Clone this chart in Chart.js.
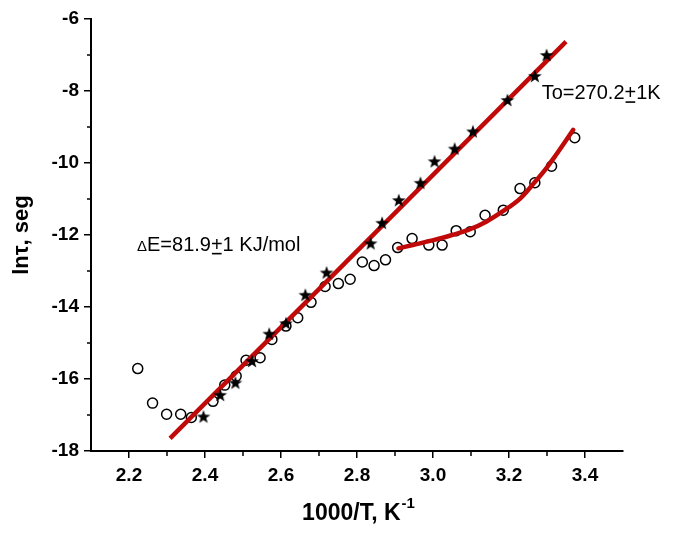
<!DOCTYPE html>
<html>
<head>
<meta charset="utf-8">
<script src="https://cdn.jsdelivr.net/npm/chart.js@4.4.1/dist/chart.umd.min.js"></script>
<style>
  html, body { margin: 0; padding: 0; background: #fff; }
  #wrap { width: 673px; height: 534px; }
</style>
</head>
<body>
<div id="wrap"><canvas id="tauChart"></canvas></div>
<script>
// star points (filled)
const starX = [2.396, 2.440, 2.480, 2.524, 2.569, 2.613, 2.664, 2.720, 2.836, 2.866, 2.910, 2.967, 3.004, 3.057, 3.105, 3.196, 3.268, 3.299]
const starY = [-17.04, -16.44, -16.10, -15.50, -14.74, -14.45, -13.66, -13.04, -12.23, -11.66, -11.03, -10.55, -9.95, -9.60, -9.12, -8.25, -7.58, -7.00]

// open circles
const circleX = [2.223, 2.262, 2.299, 2.336, 2.364, 2.421, 2.452, 2.482, 2.508, 2.545, 2.576, 2.613, 2.644, 2.679, 2.716, 2.751, 2.782, 2.814, 2.845, 2.875, 2.907, 2.945, 2.989, 3.024, 3.061, 3.098, 3.137, 3.185, 3.229, 3.268, 3.312, 3.373]
const circleY = [-15.71, -16.67, -16.98, -16.98, -17.07, -16.62, -16.17, -15.92, -15.48, -15.41, -14.90, -14.53, -14.30, -13.87, -13.43, -13.35, -13.23, -12.75, -12.85, -12.69, -12.35, -12.10, -12.28, -12.28, -11.88, -11.91, -11.45, -11.31, -10.71, -10.55, -10.09, -9.30]

// red fits
const fitX = [2.308, 3.350]
const fitY = [-17.65, -6.63]
const curveX = [2.909, 2.95, 3.006, 3.05, 3.093, 3.14, 3.181, 3.23, 3.268, 3.30, 3.320, 3.345, 3.369]
const curveY = [-12.37, -12.27, -12.13, -12.00, -11.86, -11.63, -11.36, -10.98, -10.53, -10.12, -9.83, -9.45, -9.08]

// axes
const xMin = 2.1, xMax = 3.5, xStep = 0.2
const yMin = -18, yMax = -6, yStep = 2

const toPts = (xs, ys) => xs.map((x, i) => ({x: x, y: ys[i]}))

// filled star marker
const starImg = document.createElement('canvas')
starImg.width = 16; starImg.height = 16
{
    const c = starImg.getContext('2d')
    c.fillStyle = '#000'
    c.beginPath()
    for (let i = 0; i < 10; i++) {
        const r = i % 2 ? 2.9 : 7.2
        const a = -Math.PI / 2 + i * Math.PI / 5
        c.lineTo(8 + r * Math.cos(a), 8.6 + r * Math.sin(a))
    }
    c.closePath()
    c.fill()
}

const FONT = "'Liberation Sans', Arial, sans-serif"

const extras = {
    id: 'extras',
    afterDraw(chart) {
        const c = chart.ctx
        const xs = chart.scales.x, ys = chart.scales.y
        const area = chart.chartArea
        c.save()
        c.strokeStyle = '#000'
        c.lineWidth = 1.5
        // minor ticks
        for (let v = -17; v <= -7; v += 2) {
            const py = ys.getPixelForValue(v)
            c.beginPath(); c.moveTo(area.left - 4, py); c.lineTo(area.left, py); c.stroke()
        }
        for (let v = 2.3; v < 3.5; v += 0.2) {
            const px = xs.getPixelForValue(v)
            c.beginPath(); c.moveTo(px, area.bottom); c.lineTo(px, area.bottom + 5); c.stroke()
        }

        c.fillStyle = '#000'
        c.textBaseline = 'alphabetic'
        c.textAlign = 'left'

        // annotation helper: text with underlined plus sign
        const pmText = (x, y, before, after, deltaPrefix) => {
            let px = x
            if (deltaPrefix) {
                c.font = '15px ' + FONT
                c.fillText('\u0394', px, y)
                px += c.measureText('\u0394').width
            }
            c.font = '20px ' + FONT
            c.fillText(before, px, y)
            px += c.measureText(before).width
            const pw = c.measureText('+').width
            c.fillText('+', px, y)
            c.fillRect(px + 1, y + 2, pw - 2, 1.6)
            px += pw
            c.fillText(after, px, y)
        }
        pmText(xs.getPixelForValue(2.221), ys.getPixelForValue(-12.44), 'E=81.9', '1 KJ/mol', true)
        pmText(xs.getPixelForValue(3.286), ys.getPixelForValue(-8.23), 'To=270.2', '1K', false)

        // x title with superscript
        c.font = 'bold 23px ' + FONT
        const main = '1000/T, K'
        const wMain = c.measureText(main).width
        c.font = 'bold 15px ' + FONT
        const wSup = c.measureText('-1').width
        let tx = 358 - (wMain + wSup) / 2
        c.font = 'bold 23px ' + FONT
        c.fillText(main, tx, 520)
        c.font = 'bold 15px ' + FONT
        c.fillText('-1', tx + wMain + 1, 508)

        // y title
        c.translate(28, 235)
        c.rotate(-Math.PI / 2)
        c.textAlign = 'center'
        c.font = 'bold 22px ' + FONT
        c.fillText('ln\u03C4, seg', 0, 0)
        c.restore()
    }
}

const tauChart = new Chart(document.getElementById('tauChart'), {
    type: 'scatter',
    data: {
        datasets: [{
            label: 'stars',
            data: toPts(starX, starY),
            pointStyle: starImg,
            pointRadius: 8,
            order: 0
        }, {
            label: 'fit',
            data: toPts(fitX, fitY),
            showLine: true,
            borderColor: '#c00a0a',
            borderWidth: 4.5,
            pointRadius: 0,
            order: 1
        }, {
            label: 'curve',
            data: toPts(curveX, curveY),
            showLine: true,
            borderColor: '#c00a0a',
            borderWidth: 4.5,
            borderCapStyle: 'round',
            pointRadius: 0,
            tension: 0.4,
            cubicInterpolationMode: 'monotone',
            order: 1
        }, {
            label: 'circles',
            data: toPts(circleX, circleY),
            pointStyle: 'circle',
            pointRadius: 5,
            borderColor: '#000',
            borderWidth: 1.5,
            backgroundColor: 'rgba(255,255,255,0)',
            order: 2
        }]
    },
    options: {
        responsive: true,
        maintainAspectRatio: false,
        animation: false,
        layout: { padding: { left: 0, top: 19, right: 50, bottom: 0 } },
        plugins: { legend: { display: false }, tooltip: { enabled: false } },
        scales: {
            x: {
                type: 'linear',
                min: xMin, max: xMax,
                afterFit: s => { s.height = 83 },
                afterBuildTicks: s => {
                    const t = []
                    for (let v = 2.2; v <= 3.41; v += xStep) t.push({value: +v.toFixed(1)})
                    s.ticks = t
                },
                border: { display: true, color: '#000', width: 2 },
                grid: { drawOnChartArea: false, drawTicks: true, tickLength: 7, color: '#000', lineWidth: 1.5 },
                ticks: {
                    color: '#000',
                    padding: 6,
                    font: { family: FONT, size: 19, weight: 'bold' },
                    callback: v => v.toFixed(1)
                }
            },
            y: {
                type: 'linear',
                min: yMin, max: yMax,
                afterFit: s => { s.width = 91 },
                border: { display: true, color: '#000', width: 2 },
                grid: { drawOnChartArea: false, drawTicks: true, tickLength: 7, color: '#000', lineWidth: 1.5 },
                ticks: {
                    color: '#000',
                    stepSize: yStep,
                    padding: 5,
                    font: { family: FONT, size: 19, weight: 'bold' }
                }
            }
        }
    },
    plugins: [extras]
});
</script>
</body>
</html>
